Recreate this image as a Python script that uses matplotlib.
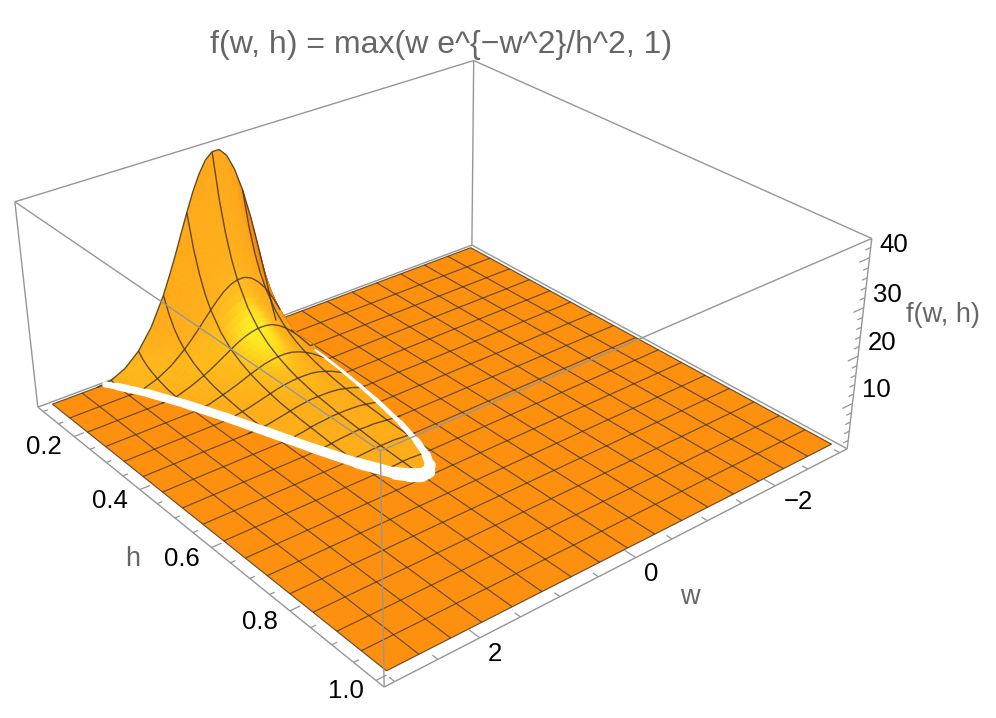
import numpy as np
import matplotlib
matplotlib.use('Agg')
import matplotlib.pyplot as plt
from matplotlib.colors import LinearSegmentedColormap
from matplotlib.path import Path
from mpl_toolkits.mplot3d import proj3d
from mpl_toolkits.mplot3d.art3d import Poly3DCollection, Line3DCollection

plt.rcParams['font.family'] = ['Liberation Sans', 'DejaVu Sans']

title = 'f(w, h) = max(w e^{\u2212w^2}/h^2, 1)'

# surface values, rows follow h_vals, columns follow w_vals
w_vals = [0, 0.05, 0.1, 0.1875, 0.28125, 0.375, 0.46875, 0.5625, 0.65625, 0.75, 0.84375, 0.9375, 1.03125,
          1.125, 1.21875, 1.3125, 1.40625, 1.5, 1.6875, 1.875, 2.0625, 2.25, 2.4375]
h_vals = [0.1, 0.114, 0.128, 0.142, 0.15625, 0.184, 0.2125, 0.241, 0.26875, 0.297, 0.325, 0.353, 0.38125,
          0.409, 0.4375, 0.466, 0.49375, 0.522, 0.55, 0.578, 0.60625, 0.634, 0.6625]
z_vals = [
    [1, 5.0, 9.9, 18.1, 26.0, 32.6, 37.6, 41.0, 42.7, 42.7, 41.4, 38.9, 35.6, 31.7, 27.6, 23.4, 19.5, 15.8, 9.8, 5.6, 2.9, 1.4, 1],
    [1, 3.8, 7.6, 13.9, 20.0, 25.1, 28.9, 31.5, 32.8, 32.9, 31.8, 29.9, 27.4, 24.4, 21.2, 18.0, 15.0, 12.2, 7.5, 4.3, 2.3, 1.1, 1],
    [1, 3.0, 6.0, 11.0, 15.8, 19.9, 23.0, 25.0, 26.0, 26.1, 25.3, 23.7, 21.7, 19.4, 16.8, 14.3, 11.9, 9.6, 6.0, 3.4, 1.8, 1, 1],
    [1, 2.5, 4.9, 9.0, 12.9, 16.2, 18.7, 20.3, 21.2, 21.2, 20.5, 19.3, 17.7, 15.7, 13.7, 11.6, 9.7, 7.8, 4.9, 2.8, 1.5, 1, 1],
    [1, 2.0, 4.1, 7.4, 10.7, 13.4, 15.4, 16.8, 17.5, 17.5, 17.0, 16.0, 14.6, 13.0, 11.3, 9.6, 8.0, 6.5, 4.0, 2.3, 1.2, 1, 1],
    [1, 1.5, 2.9, 5.3, 7.7, 9.6, 11.1, 12.1, 12.6, 12.6, 12.2, 11.5, 10.5, 9.4, 8.1, 6.9, 5.7, 4.7, 2.9, 1.6, 1, 1, 1],
    [1, 1.1, 2.2, 4.0, 5.7, 7.2, 8.3, 9.1, 9.4, 9.4, 9.1, 8.6, 7.9, 7.0, 6.1, 5.2, 4.3, 3.5, 2.2, 1.2, 1, 1, 1],
    [1, 1, 1.7, 3.1, 4.5, 5.6, 6.5, 7.1, 7.3, 7.3, 7.1, 6.7, 6.1, 5.5, 4.7, 4.0, 3.3, 2.7, 1.7, 1, 1, 1, 1],
    [1, 1, 1.4, 2.5, 3.6, 4.5, 5.2, 5.7, 5.9, 5.9, 5.7, 5.4, 4.9, 4.4, 3.8, 3.2, 2.7, 2.2, 1.3, 1, 1, 1, 1],
    [1, 1, 1.1, 2.0, 2.9, 3.7, 4.3, 4.6, 4.8, 4.8, 4.7, 4.4, 4.0, 3.6, 3.1, 2.6, 2.2, 1.8, 1.1, 1, 1, 1, 1],
    [1, 1, 1, 1.7, 2.5, 3.1, 3.6, 3.9, 4.0, 4.0, 3.9, 3.7, 3.4, 3.0, 2.6, 2.2, 1.8, 1.5, 1, 1, 1, 1, 1],
    [1, 1, 1, 1.4, 2.1, 2.6, 3.0, 3.3, 3.4, 3.4, 3.3, 3.1, 2.8, 2.5, 2.2, 1.9, 1.6, 1.3, 1, 1, 1, 1, 1],
    [1, 1, 1, 1.2, 1.8, 2.2, 2.6, 2.8, 2.9, 2.9, 2.9, 2.7, 2.5, 2.2, 1.9, 1.6, 1.3, 1.1, 1, 1, 1, 1, 1],
    [1, 1, 1, 1.1, 1.6, 1.9, 2.3, 2.5, 2.6, 2.6, 2.5, 2.3, 2.1, 1.9, 1.7, 1.4, 1.2, 1, 1, 1, 1, 1, 1],
    [1, 1, 1, 1, 1.4, 1.7, 2.0, 2.1, 2.2, 2.2, 2.2, 2.0, 1.9, 1.7, 1.4, 1.2, 1, 1, 1, 1, 1, 1, 1],
    [1, 1, 1, 1, 1.2, 1.5, 1.7, 1.9, 2.0, 2.0, 1.9, 1.8, 1.6, 1.5, 1.3, 1.1, 1, 1, 1, 1, 1, 1, 1],
    [1, 1, 1, 1, 1.1, 1.3, 1.5, 1.7, 1.7, 1.8, 1.7, 1.6, 1.5, 1.3, 1.1, 1, 1, 1, 1, 1, 1, 1, 1],
    [1, 1, 1, 1, 1, 1.2, 1.4, 1.5, 1.6, 1.6, 1.5, 1.4, 1.3, 1.2, 1, 1, 1, 1, 1, 1, 1, 1, 1],
    [1, 1, 1, 1, 1, 1.1, 1.2, 1.4, 1.4, 1.4, 1.4, 1.3, 1.2, 1.1, 1, 1, 1, 1, 1, 1, 1, 1, 1],
    [1, 1, 1, 1, 1, 1, 1.1, 1.2, 1.3, 1.3, 1.2, 1.2, 1.1, 1, 1, 1, 1, 1, 1, 1, 1, 1, 1],
    [1, 1, 1, 1, 1, 1, 1, 1.1, 1.2, 1.2, 1.1, 1.1, 1, 1, 1, 1, 1, 1, 1, 1, 1, 1, 1],
    [1, 1, 1, 1, 1, 1, 1, 1, 1.1, 1.1, 1, 1, 1, 1, 1, 1, 1, 1, 1, 1, 1, 1, 1],
    [1, 1, 1, 1, 1, 1, 1, 1, 1, 1, 1, 1, 1, 1, 1, 1, 1, 1, 1, 1, 1, 1, 1],
]

# the white crease where the hump meets the floor
crease_w = [2.33, 2.25, 2.0625, 1.875, 1.6875, 1.5, 1.3125, 1.125, 0.9375, 0.84, 0.75, 0.65, 0.5625, 0.46875,
            0.375, 0.28, 0.1875, 0.14, 0.1, 0.07, 0.055]
crease_h = [0.1, 0.119, 0.171, 0.236, 0.313, 0.398, 0.484, 0.563, 0.624, 0.643, 0.654, 0.653, 0.640, 0.613,
            0.571, 0.51, 0.425, 0.37, 0.315, 0.262, 0.23]
crease_px = [5.5, 7, 8, 8.5, 9, 9, 9.5, 10, 12, 14, 14, 13, 10, 8, 6, 5, 4, 3.5, 3, 2.5, 2]

w_major = [-2, 0, 2]
h_major = [0.2, 0.4, 0.6, 0.8, 1.0]
z_major = [10, 20, 30, 40]

W_LIM = (-3.12, 3.12)
H_LIM = (0.082, 1.018)
Z_LIM = (0.16, 43.8)
MESH_CELLS = 16
SUB = 3
GRAY = '#666666'
BOX = '#969696'
MESH = '#3c3226'
FLOOR = '#fe9010'

fig = plt.figure(figsize=(9.96, 7.18), dpi=100)
ax = fig.add_axes([0.0023, -0.0585, 0.8473, 1.1753], projection='3d')
ax.computed_zorder = False
ax.set_xlim(*W_LIM)
ax.set_ylim(*H_LIM)
ax.set_zlim(*Z_LIM)
ax.view_init(29.12, 50.78)
ax.set_proj_type('persp', focal_length=0.445)
ax.set_box_aspect((1, 0.992, 0.4004))
ax.set_axis_off()

w_mesh = np.linspace(-3, 3, MESH_CELLS + 1)
h_mesh = np.linspace(0.1, 1, MESH_CELLS + 1)
w_arr = np.array(w_vals)
h_arr = np.array(h_vals)
z_arr = np.array(z_vals)
M = ax.get_proj()


def add_lines(segs, color, lw, zorder, alpha=1.0):
    lc = Line3DCollection(segs, colors=color, linewidths=lw, alpha=alpha, zorder=zorder)
    ax.add_collection3d(lc, autolim=False)
    lc.set_clip_on(False)
    return lc


# box edges behind the surface
wl, wh = W_LIM
hl, hh = H_LIM
zl, zh = Z_LIM
back = [[(wl, hl, zl), (wh, hl, zl)], [(wl, hl, zl), (wl, hh, zl)], [(wl, hl, zl), (wl, hl, zh)],
        [(wl, hl, zh), (wh, hl, zh)], [(wl, hl, zh), (wl, hh, zh)],
        [(wh, hl, zl), (wh, hl, zh)], [(wl, hh, zl), (wl, hh, zh)],
        [(wh, hl, zl), (wh, hh, zl)], [(wh, hh, zl), (wl, hh, zl)]]
add_lines(back, BOX, 1.0, 1)

# floor
floor = []
for i in range(MESH_CELLS):
    for j in range(MESH_CELLS):
        floor.append([(w_mesh[j], h_mesh[i], 1), (w_mesh[j + 1], h_mesh[i], 1),
                      (w_mesh[j + 1], h_mesh[i + 1], 1), (w_mesh[j], h_mesh[i + 1], 1)])
floor_poly = Poly3DCollection(floor, facecolors=FLOOR, edgecolors=FLOOR, linewidths=0.3, zorder=2)
ax.add_collection3d(floor_poly, autolim=False)
floor_poly.set_clip_on(False)
floor_lines = [[(w, 0.1, 1), (w, 1, 1)] for w in w_mesh] + [[(-3, h, 1), (3, h, 1)] for h in h_mesh]
add_lines(floor_lines, MESH, 0.85, 3, alpha=0.75)

# hump, coloured by a light from the front; colours are blended across each cell
sx = 1 / 6.0
sy = 0.992 / 0.9
sz = 0.4004 / 42.0
light = np.array([0.1, 0.6, 0.8])
light = light / np.linalg.norm(light)
shade = LinearSegmentedColormap.from_list('hump', [(0.0, '#d86410'), (0.45, '#ee7a0e'), (0.66, '#ffa616'),
                                                   (0.86, '#ffb01a'), (0.93, '#ffc01c'), (0.97, '#ffdc20'),
                                                   (1.0, '#fff024')])
dz_h, dz_w = np.gradient(z_arr, h_arr, w_arr)
nx = -dz_w * sz / sx
ny = -dz_h * sz / sy
norm = np.sqrt(nx ** 2 + ny ** 2 + 1)
lit = (nx * light[0] + ny * light[1] + light[2]) / norm

polys = []
faces = []
front = np.zeros((len(h_vals) - 1, len(w_vals) - 1), dtype=bool)
for i in range(len(h_vals) - 1):
    for j in range(len(w_vals) - 1):
        cw = [w_arr[j], w_arr[j + 1], w_arr[j + 1], w_arr[j]]
        ch = [h_arr[i], h_arr[i], h_arr[i + 1], h_arr[i + 1]]
        cz = [z_arr[i, j], z_arr[i, j + 1], z_arr[i + 1, j + 1], z_arr[i + 1, j]]
        px, py, _ = proj3d.proj_transform(np.array(cw), np.array(ch), np.array(cz), M)
        area = (px[2] - px[0]) * (py[3] - py[1]) - (px[3] - px[1]) * (py[2] - py[0])
        front[i, j] = area > 0
        if max(cz) <= 1:
            continue
        t = np.linspace(0, 1, SUB + 1)
        for a in range(SUB):
            for b in range(SUB):
                quad = []
                for u, v in ((t[a], t[b]), (t[a + 1], t[b]), (t[a + 1], t[b + 1]), (t[a], t[b + 1])):
                    zp = (1 - u) * (1 - v) * cz[0] + u * (1 - v) * cz[1] + u * v * cz[2] + (1 - u) * v * cz[3]
                    quad.append((cw[0] + u * (cw[1] - cw[0]), ch[0] + v * (ch[2] - ch[0]), zp))
                um = (t[a] + t[a + 1]) / 2
                vm = (t[b] + t[b + 1]) / 2
                s = ((1 - um) * (1 - vm) * lit[i, j] + um * (1 - vm) * lit[i, j + 1]
                     + um * vm * lit[i + 1, j + 1] + (1 - um) * vm * lit[i + 1, j])
                polys.append(quad)
                faces.append(shade(float(np.clip(s, 0, 1))))
hump = Poly3DCollection(polys, facecolors=faces, edgecolors=faces, linewidths=0.4, zorder=4)
ax.add_collection3d(hump, autolim=False)

# keep the hump inside the crease
cw_a = np.array(crease_w)
ch_a = np.array(crease_h)
ox, oy, _ = proj3d.proj_transform(cw_a, ch_a, np.ones(len(cw_a)), M)
tx, ty, _ = proj3d.proj_transform(np.array([0.0, 2.33]), np.array([0.1, 0.1]), np.array([zh, zh]), M)
clip = Path(np.column_stack([np.r_[ox, tx, ox[0]], np.r_[oy, ty, oy[0]]]), closed=True)
hump.set_clip_path(clip, ax.transData)

# mesh lines on the hump
hump_lines = []
for w in w_mesh:
    if not np.any(np.isclose(w_arr, w)):
        continue
    j = int(np.argmin(abs(w_arr - w)))
    for i in range(len(h_vals) - 1):
        if z_arr[i:i + 2, j].max() <= 1:
            continue
        seen = (j > 0 and front[i, j - 1]) or (j < len(w_vals) - 1 and front[i, j])
        if seen:
            hump_lines.append([(w, h_arr[i], z_arr[i, j]), (w, h_arr[i + 1], z_arr[i + 1, j])])
for h in h_mesh:
    if not np.any(np.isclose(h_arr, h)):
        continue
    i = int(np.argmin(abs(h_arr - h)))
    for j in range(len(w_vals) - 1):
        if z_arr[i, j:j + 2].max() <= 1:
            continue
        # the h = 0.1 edge is the outline of the hump, so it always shows
        seen = i == 0 or front[i - 1, j] or (i < len(h_vals) - 1 and front[i, j])
        if seen:
            hump_lines.append([(w_arr[j], h, z_arr[i, j]), (w_arr[j + 1], h, z_arr[i, j + 1])])
add_lines(hump_lines, MESH, 1.0, 5, alpha=0.8)

# crease
segs = [[(crease_w[k], crease_h[k], 1), (crease_w[k + 1], crease_h[k + 1], 1)] for k in range(len(crease_w) - 1)]
widths = [0.36 * (crease_px[k] + crease_px[k + 1]) for k in range(len(crease_w) - 1)]
crease = Line3DCollection(segs, colors='white', linewidths=widths, zorder=6, capstyle='round')
ax.add_collection3d(crease, autolim=False)

# box edges in front of the surface
front_edges = [[(wh, hh, zl), (wh, hh, zh)], [(wh, hh, zh), (wh, hl, zh)], [(wh, hh, zh), (wl, hh, zh)]]
add_lines(front_edges, BOX, 1.0, 7)

# ticks
ticks = []
for v in np.arange(0.1, 1.001, 0.05):
    major = any(np.isclose(v, m) for m in h_major)
    ticks.append([(wh, v, zl), (wh - (0.12 if major else 0.06), v, zl)])
for v in np.arange(-3, 3.001, 0.5):
    major = any(np.isclose(v, m) for m in w_major)
    ticks.append([(v, hh, zl), (v, hh - (0.024 if major else 0.012), zl)])
for v in np.arange(2, 43, 2):
    major = any(np.isclose(v, m) for m in z_major)
    ticks.append([(wl, hh, v), (wl + (0.16 if major else 0.08), hh, v)])
add_lines(ticks, BOX, 0.9, 7)


def tick_label(w, h, z, text, dx, dy):
    x, y, _ = proj3d.proj_transform(w, h, z, M)
    ax.annotate(text, xy=(x, y), xytext=(dx, -dy), textcoords='offset pixels', ha='center', va='center',
                fontsize=18.5, color='black', annotation_clip=False)


for v in h_major:
    tick_label(wh, v, zl, f'{v:.1f}', -30, 11)
for v in w_major:
    tick_label(v, hh, zl, f'{v}'.replace('-', '\u2212'), 23 if v < 0 else 15, 16)
for v in z_major:
    tick_label(wl, hh, v, f'{v}', 24, -13)

fig.text(441 / 996, 1 - 44.5 / 718, title, ha='center', va='center', fontsize=23, color=GRAY)
fig.text(133 / 996, 1 - 559 / 718, 'h', ha='center', va='center', fontsize=19.5, color=GRAY)
fig.text(690 / 996, 1 - 597 / 718, 'w', ha='center', va='center', fontsize=19.5, color=GRAY)
fig.text(943 / 996, 1 - 315 / 718, 'f(w, h)', ha='center', va='center', fontsize=19.5, color=GRAY)

fig.savefig('out.png', dpi=100)
